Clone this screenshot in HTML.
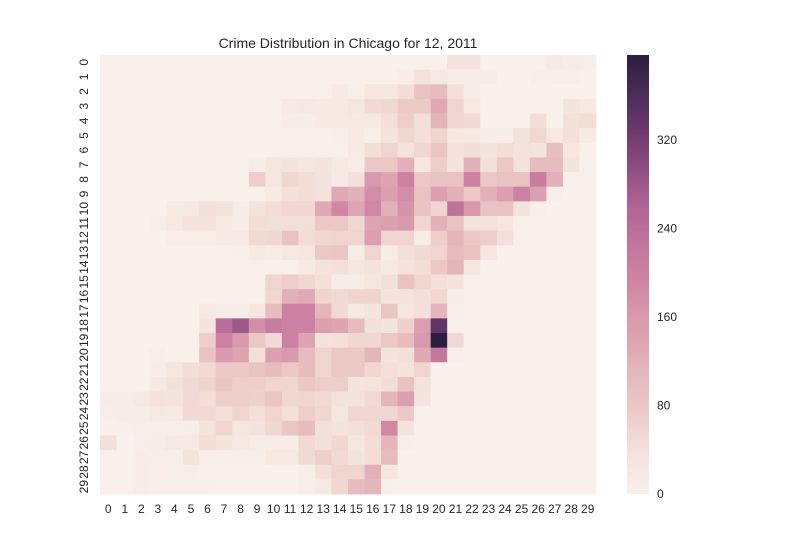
<!DOCTYPE html>
<html><head><meta charset="utf-8"><style>
body{margin:0;background:#fff;}
svg{display:block;font-family:"Liberation Sans",Arial,sans-serif;}
</style></head><body>
<svg id="chart" width="800" height="550" viewBox="0 0 800 550" xmlns="http://www.w3.org/2000/svg">
<defs><linearGradient id="cbg" x1="0" y1="1" x2="0" y2="0"></linearGradient></defs>
<text x="348" y="48" text-anchor="middle" font-size="14" fill="#262626">Crime Distribution in Chicago for 12, 2011</text>
<g id="cells"></g><g id="xt"></g><g id="yt"></g>
<rect x="627" y="55" width="22" height="439" fill="url(#cbg)"/>
<g id="ct"></g>
</svg>
<script>
const rowLabels=[...Array(30).keys()];
const colLabels=[...Array(30).keys()];
const cbTicks=[0,80,160,240,320];
const vmax=397;
// sparse nonzero entries per row: [col,value,...]
const row0=[21,35,22,35,27,15,28,10,29,5];
const row1=[18,10,19,35,20,20,21,10,22,10,23,10,26,8,27,5,28,5];
const row2=[14,15,15,5,16,25,17,25,18,45,19,90,20,100,21,40,22,10];
const row3=[11,15,12,20,13,15,14,15,15,25,16,50,17,55,18,75,19,75,20,130,21,60,22,20,28,30,29,20];
const row4=[11,10,12,10,13,15,14,15,15,20,16,20,17,40,18,70,19,40,20,110,21,60,22,50,26,45,28,40,29,45];
const row5=[14,8,15,15,16,5,17,30,18,55,19,40,20,60,21,25,22,20,23,10,24,10,25,35,26,55,27,20,28,40,29,15];
const row6=[15,15,16,45,17,60,18,35,19,55,20,85,21,35,22,45,23,30,24,45,25,35,26,30,27,95,28,25];
const row7=[9,10,10,25,11,30,12,25,13,30,14,20,15,10,16,80,17,80,18,120,19,25,20,70,21,30,22,120,23,40,24,80,25,35,26,100,27,100,28,30];
const row8=[9,70,10,25,11,55,12,45,13,35,14,15,15,40,16,160,17,140,18,200,19,80,20,90,21,90,22,200,23,80,24,90,25,90,26,210,27,120];
const row9=[10,15,11,40,12,45,13,35,14,130,15,120,16,180,17,150,18,180,19,90,20,150,21,120,22,80,23,120,24,150,25,200,26,150,27,5];
const row10=[4,15,5,20,6,40,7,35,8,10,9,35,10,45,11,55,12,55,13,130,14,190,15,140,16,190,17,120,18,170,19,90,20,60,21,230,22,160,23,90,24,90,25,35,26,8];
const row11=[3,8,4,20,5,35,6,35,7,20,8,10,9,45,10,40,11,40,12,40,13,80,14,80,15,55,16,140,17,150,18,160,19,60,20,120,21,90,22,35,23,35,24,25];
const row12=[4,8,5,8,6,8,7,15,8,20,9,50,10,55,11,90,12,45,13,55,14,60,15,60,16,150,17,60,18,60,19,10,20,70,21,110,22,80,23,70,24,40];
const row13=[8,5,9,15,10,10,11,20,12,25,13,80,14,85,15,10,16,60,17,10,18,40,19,50,20,60,21,100,22,90,23,25];
const row14=[12,15,13,35,14,40,15,25,16,35,17,15,18,35,19,45,20,80,21,110,22,25];
const row15=[10,60,11,70,12,55,13,40,14,10,15,10,16,25,17,40,18,90,19,60,20,40,21,30];
const row16=[10,55,11,120,12,130,13,60,14,50,15,60,16,60,17,30,18,30,19,40,20,55,21,10];
const row17=[6,20,7,10,8,10,9,25,10,100,11,200,12,200,13,110,14,50,15,20,16,30,17,85,18,25,19,40,20,110,21,5];
const row18=[6,30,7,240,8,280,9,180,10,210,11,200,12,200,13,150,14,140,15,100,16,40,17,30,18,65,19,150,20,340];
const row19=[6,70,7,200,8,160,9,80,10,50,11,200,12,140,13,35,14,40,15,55,16,55,17,80,18,100,19,160,20,397,21,50];
const row20=[3,5,6,90,7,160,8,140,9,40,10,150,11,160,12,100,13,60,14,80,15,80,16,110,17,30,18,40,19,130,20,220,21,5];
const row21=[3,10,4,25,5,45,6,50,7,80,8,80,9,90,10,100,11,80,12,100,13,60,14,80,15,80,16,55,17,40,18,35,19,60];
const row22=[3,20,4,40,5,50,6,60,7,85,8,70,9,70,10,60,11,60,12,80,13,70,14,70,15,30,16,35,17,45,18,90,19,35];
const row23=[0,10,1,10,2,20,3,35,4,30,5,50,6,45,7,70,8,70,9,65,10,85,11,55,12,60,13,50,14,35,15,35,16,50,17,110,18,150,19,30];
const row24=[0,8,1,10,2,10,3,20,4,15,5,50,6,50,7,40,8,60,9,40,10,60,11,40,12,70,13,55,14,25,15,55,16,55,17,55,18,80];
const row25=[0,3,1,3,2,5,3,5,4,5,5,10,6,35,7,60,8,25,9,35,10,55,11,85,12,100,13,40,14,35,15,40,16,50,17,190,18,30];
const row26=[0,40,2,8,3,10,4,20,5,20,6,45,7,30,8,20,9,10,10,10,11,10,12,50,13,40,14,55,15,25,16,45,17,110,18,5];
const row27=[2,10,3,5,4,5,5,30,6,5,7,5,8,5,9,5,10,20,11,20,12,50,13,70,14,50,15,30,16,45,17,100];
const row28=[2,10,3,8,4,5,5,5,12,5,13,40,14,60,15,60,16,120,17,25];
const row29=[2,10,3,8,4,5,5,5,6,3,12,5,13,20,14,55,15,100,16,110,17,3];
const rows=[row0,row1,row2,row3,row4,row5,row6,row7,row8,row9,row10,row11,row12,row13,row14,row15,row16,row17,row18,row19,row20,row21,row22,row23,row24,row25,row26,row27,row28,row29];

const NS="http://www.w3.org/2000/svg";
const X0=100,X1=596,Y0=55,Y1=494;
const cw=(X1-X0)/colLabels.length, ch=(Y1-Y0)/rowLabels.length;
const xs=c=>X0+c*cw, ys=r=>Y0+r*ch;
const stops=[[0,[249,240,235]],[0.1,[243,224,218]],[0.2,[235,200,197]],[0.35,[222,165,178]],[0.5,[205,130,162]],[0.65,[178,102,150]],[0.8,[120,62,115]],[0.9,[78,46,92]],[1,[44,30,62]]];
function color(v){const t=Math.max(0,Math.min(1,v/vmax));for(let i=1;i<stops.length;i++){if(t<=stops[i][0]){const a=stops[i-1],b=stops[i],f=(t-a[0])/(b[0]-a[0]);return 'rgb('+a[1].map((x,k)=>Math.round(x+(b[1][k]-x)*f)).join(',')+')';}}return 'rgb(44,30,62)';}
function mk(tag,attrs,parent){const e=document.createElementNS(NS,tag);for(const k in attrs)e.setAttribute(k,attrs[k]);parent.appendChild(e);return e;}
const cells=document.getElementById('cells');
for(let r=0;r<rowLabels.length;r++){
  const vals=new Array(colLabels.length).fill(0);
  const arr=rows[r];for(let i=0;i<arr.length;i+=2)vals[arr[i]]=arr[i+1];
  for(let c=0;c<colLabels.length;c++){
    const e=mk('rect',{x:xs(c),y:ys(r),width:cw+0.4,height:ch+0.4,fill:color(vals[c])},cells);
    
    
  }
}
const xt=document.getElementById('xt');
colLabels.forEach((l,c)=>{const e=mk('text',{x:xs(c)+cw/2,y:513,'text-anchor':'middle','font-size':'12',fill:'#262626'},xt);e.textContent=l;

});
const yt=document.getElementById('yt');
rowLabels.forEach((l,r)=>{const cy=ys(r)+ch/2;const e=mk('text',{x:0,y:0,transform:'translate(88,'+cy+') rotate(-90)','text-anchor':'middle','font-size':'12',fill:'#262626'},yt);e.textContent=l;

});
const g=document.getElementById('cbg');
for(let i=0;i<=20;i++){mk('stop',{offset:(i/20),'stop-color':color(vmax*i/20)},g);}
const ct=document.getElementById('ct');
cbTicks.forEach(v=>{const y=Y1-(v/vmax)*(Y1-Y0);const e=mk('text',{x:657,y:y+4,'font-size':'12',fill:'#262626'},ct);e.textContent=v;

});
</script>
</body></html>
